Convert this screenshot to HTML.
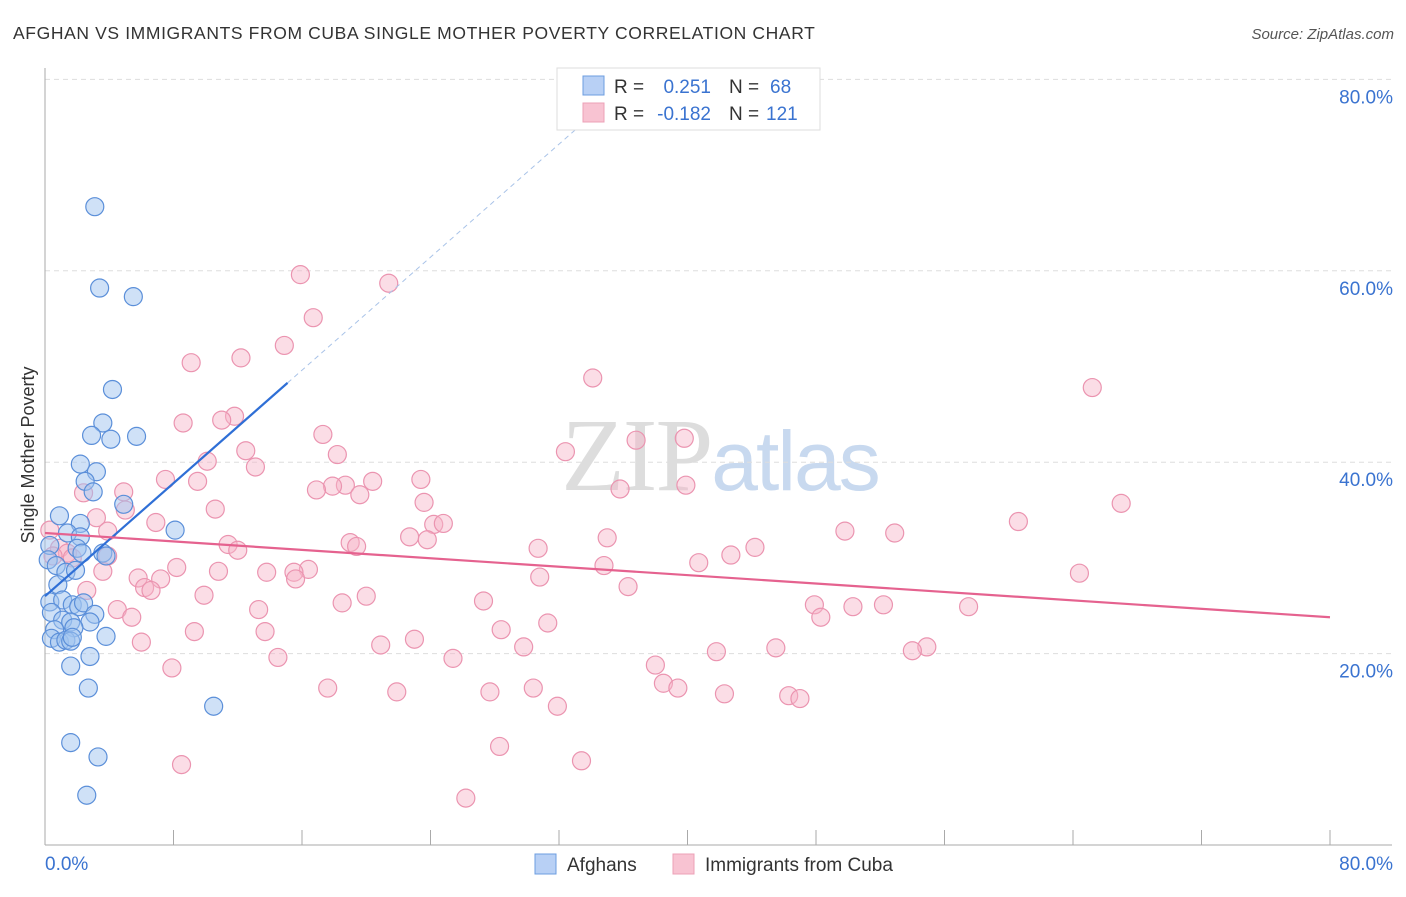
<!DOCTYPE html>
<html><head><meta charset="utf-8"><style>
body{margin:0;background:#fff;font-family:"Liberation Sans",sans-serif}
</style></head><body>
<svg id="chart" width="1406" height="892" xmlns="http://www.w3.org/2000/svg" font-family="Liberation Sans, sans-serif">
<text x="13" y="39" font-size="17.5" fill="#333" letter-spacing="0.62">AFGHAN VS IMMIGRANTS FROM CUBA SINGLE MOTHER POVERTY CORRELATION CHART</text>
<text x="1394" y="39" font-size="15" fill="#555" font-style="italic" text-anchor="end">Source: ZipAtlas.com</text>
<text x="720" y="490" font-size="104" text-anchor="middle" fill="#ddd" font-family="Liberation Serif, serif" letter-spacing="-2">ZIP<tspan fill="#c8d9ef" font-family="Liberation Sans, sans-serif" font-size="84">atlas</tspan></text>
<text transform="translate(34,455) rotate(-90)" font-size="18" fill="#333" text-anchor="middle">Single Mother Poverty</text>
<g id="grid"></g><g id="axes"></g><g id="pts"></g><g id="lines"></g>
<g>
<rect x="557" y="68" width="263" height="62" fill="#fff" stroke="#ddd"/>
<rect x="583" y="76" width="21" height="19" fill="#b8d0f5" stroke="#6c9ee0"/>
<rect x="583" y="103" width="21" height="19" fill="#f8c3d2" stroke="#eca0b7"/>
<text x="614" y="93" font-size="19" fill="#333">R = </text><text x="711" y="93" font-size="19" fill="#3a73d0" text-anchor="end">0.251</text>
<text x="729" y="93" font-size="19" fill="#333">N = </text><text x="770" y="93" font-size="19" fill="#3a73d0">68</text>
<text x="614" y="120" font-size="19" fill="#333">R = </text><text x="711" y="120" font-size="19" fill="#3a73d0" text-anchor="end">-0.182</text>
<text x="729" y="120" font-size="19" fill="#333">N = </text><text x="766" y="120" font-size="19" fill="#3a73d0">121</text>
</g>
<g>
<rect x="535" y="854" width="21" height="20" fill="#b8d0f5" stroke="#6c9ee0"/>
<text x="567" y="871" font-size="19" fill="#333">Afghans</text>
<rect x="673" y="854" width="21" height="20" fill="#f8c3d2" stroke="#eca0b7"/>
<text x="705" y="871" font-size="19" fill="#333">Immigrants from Cuba</text>
</g>
</svg>
<script>
const blueX=[3.1,3.4,5.5,4.2,3.6,2.9,4.1,5.7,2.2,3.2,2.5,3.0,4.9,8.1,0.9,2.2,1.4,2.2,2.0,0.3,2.3,3.6,3.8,0.2,0.7,1.3,1.9,0.8,0.3,1.1,1.7,2.1,2.4,3.1,0.4,1.1,1.6,2.8,1.8,0.6,0.4,0.9,1.3,1.6,1.7,3.8,2.8,1.6,2.7,10.5,1.6,3.3,2.6];
const blueY=[66.7,58.2,57.3,47.6,44.1,42.8,42.4,42.7,39.8,39.0,38.0,36.9,35.6,32.9,34.4,33.6,32.6,32.2,31.0,31.3,30.5,30.5,30.2,29.8,29.2,28.5,28.7,27.2,25.4,25.6,25.1,24.9,25.3,24.1,24.3,23.5,23.3,23.3,22.7,22.5,21.6,21.2,21.4,21.3,21.7,21.8,19.7,18.7,16.4,14.5,10.7,9.2,5.2];
const pinkX=[15.9,21.4,16.7,14.9,12.2,9.1,34.1,65.2,11.8,11.0,8.6,17.3,36.8,39.8,12.5,32.4,18.2,10.1,13.1,7.5,9.5,23.4,20.4,18.7,17.9,16.9,35.8,39.9,4.9,2.4,19.6,23.6,67.0,10.6,5.0,3.2,6.9,24.2,24.8,60.6,3.9,49.8,52.9,22.7,23.8,35.0,11.4,19.0,19.4,12.0,44.2,30.7,0.9,1.4,42.7,3.9,40.7,34.8,8.2,16.4,15.5,13.8,10.8,3.6,64.4,30.8,15.6,5.8,7.2,6.2,6.6,36.3,2.6,9.9,20.0,27.3,18.5,47.9,50.3,52.2,57.5,4.5,13.3,48.3,5.4,31.3,28.4,9.3,13.7,23.0,6.0,20.9,29.8,45.5,54.9,54.0,41.8,25.4,14.5,38.0,7.9,38.5,39.4,17.6,30.4,27.7,21.9,42.3,46.3,47.0,31.9,28.3,33.4,8.5,26.2,0.3,0.5,1.7];
const pinkY=[59.6,58.7,55.1,52.2,50.9,50.4,48.8,47.8,44.8,44.4,44.1,42.9,42.3,42.5,41.2,41.1,40.8,40.1,39.5,38.2,38.0,38.2,38.0,37.6,37.5,37.1,37.2,37.6,36.9,36.8,36.6,35.8,35.7,35.1,35.0,34.2,33.7,33.5,33.6,33.8,32.8,32.8,32.6,32.2,31.9,32.1,31.4,31.6,31.2,30.8,31.1,31.0,31.0,30.5,30.3,30.2,29.5,29.2,29.0,28.8,28.5,28.5,28.6,28.6,28.4,28.0,27.8,27.9,27.8,26.9,26.6,27.0,26.6,26.1,26.0,25.5,25.3,25.1,24.9,25.1,24.9,24.6,24.6,23.8,23.8,23.2,22.5,22.3,22.3,21.5,21.2,20.9,20.7,20.6,20.7,20.3,20.2,19.5,19.6,18.8,18.5,16.9,16.4,16.4,16.4,16.0,16.0,15.8,15.6,15.3,14.5,10.3,8.8,8.4,4.9,32.9,30.2,30.0];
const yTicks=[20,40,60,80];
const yTickLabels=["20.0%","40.0%","60.0%","80.0%"];
const xTickLabels=["0.0%","80.0%"];
const blueTrend=[26.0,1.476]; // intercept, slope
const pinkTrend=[32.6,-0.110];
const X=v=>45+v*16.0625, Y=v=>845-v*9.57;
const NS="http://www.w3.org/2000/svg";
function mk(parent,tag,attrs){const e=document.createElementNS(NS,tag);for(const k in attrs)e.setAttribute(k,attrs[k]);document.getElementById(parent).appendChild(e);return e;}
yTicks.forEach((t,i)=>{
  const g=mk('grid','line',{x1:45,x2:1392,y1:Y(t),y2:Y(t),stroke:'#ddd','stroke-dasharray':'5,4'});
  
  
  const l=mk('grid','text',{x:1393,y:Y(t)+24,'font-size':19,fill:'#3a73d0','text-anchor':'end'});
  l.textContent=yTickLabels[i];
  
  
});
const ax=mk('axes','line',{x1:45,x2:45,y1:68,y2:845,stroke:'#aaa'});


const bx=mk('axes','line',{x1:45,x2:1392,y1:845,y2:845,stroke:'#aaa'});


for(let k=1;k<=10;k++){const t=mk('axes','line',{x1:X(k*8),x2:X(k*8),y1:830,y2:845,stroke:'#aaa'});
  
  }
const xl0=mk('axes','text',{x:45,y:870,'font-size':19,fill:'#3a73d0'});xl0.textContent=xTickLabels[0];


const xl1=mk('axes','text',{x:1393,y:870,'font-size':19,fill:'#3a73d0','text-anchor':'end'});xl1.textContent=xTickLabels[1];


pinkX.forEach((x,i)=>{const c=mk('pts','circle',{cx:X(x),cy:Y(pinkY[i]),r:9,fill:'rgba(246,180,200,0.45)',stroke:'#eb94b0','stroke-width':1.2});
  
  });
blueX.forEach((x,i)=>{const c=mk('pts','circle',{cx:X(x),cy:Y(blueY[i]),r:9,fill:'rgba(160,196,240,0.5)',stroke:'#5b8fd9','stroke-width':1.2});
  
  });
const bt=x=>blueTrend[0]+blueTrend[1]*x, pt=x=>pinkTrend[0]+pinkTrend[1]*x;
const xMaxB=Math.max(...blueX)+4.6;
const bd=mk('lines','line',{x1:X(xMaxB),y1:Y(bt(xMaxB)),x2:X(33.9),y2:Y(bt(33.9)),stroke:'#a9c3e8','stroke-width':1,'stroke-dasharray':'5,4'});


const bl=mk('lines','line',{x1:X(0),y1:Y(bt(0)),x2:X(xMaxB),y2:Y(bt(xMaxB)),stroke:'#2f6fd6','stroke-width':2.2});


const pl=mk('lines','line',{x1:X(0),y1:Y(pt(0)),x2:X(80),y2:Y(pt(80)),stroke:'#e5628f','stroke-width':2.2});


</script>
</body></html>
